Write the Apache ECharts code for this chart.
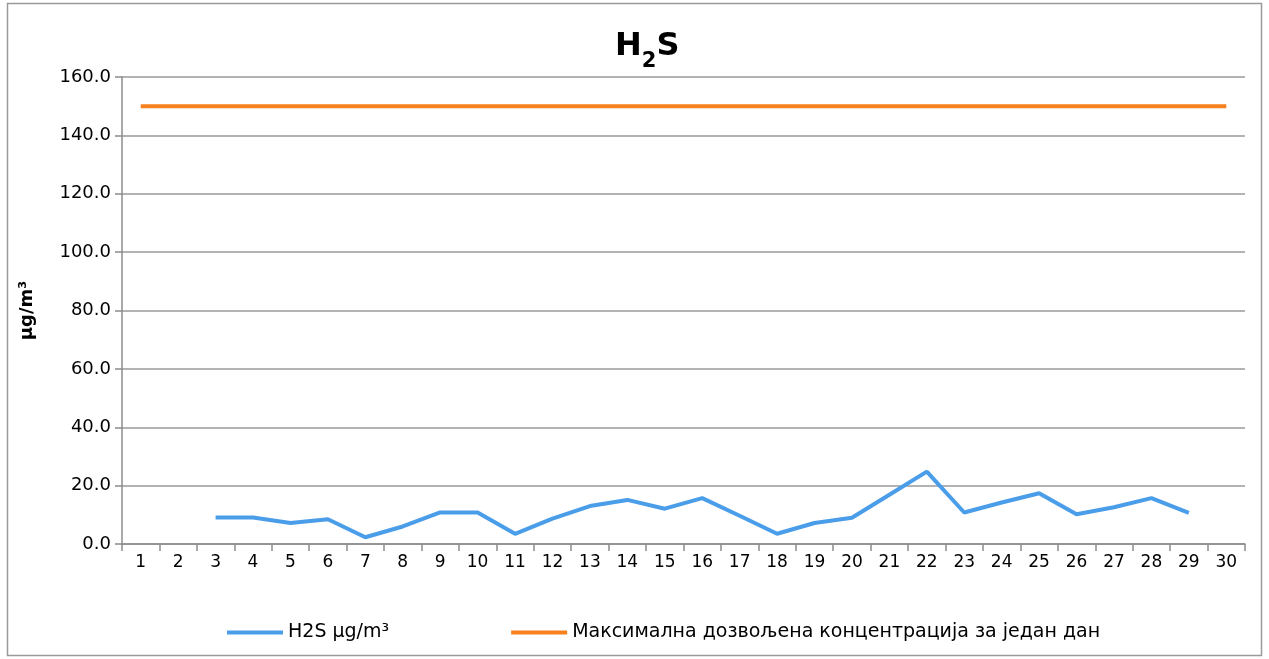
<!DOCTYPE html>
<html>
<head>
<meta charset="utf-8">
<script src="https://cdn.jsdelivr.net/npm/echarts@6/dist/echarts.min.js"></script>
<style>html,body{margin:0;padding:0;background:#fff}#c{width:1269px;height:659px}</style>
</head>
<body>
<div id="c"></div>
<script>
var days = ['1','2','3','4','5','6','7','8','9','10','11','12','13','14','15','16','17','18','19','20','21','22','23','24','25','26','27','28','29','30'];
var h2s = [null,null,9.1,9.1,7.2,8.5,2.3,6.0,10.8,10.8,3.5,8.7,13.0,15.1,12.1,15.7,9.7,3.5,7.2,9.0,16.9,24.8,10.8,14.2,17.4,10.2,12.6,15.7,10.7,null];
var limit = [150,150,150,150,150,150,150,150,150,150,150,150,150,150,150,150,150,150,150,150,150,150,150,150,150,150,150,150,150,150];
var yTicks = {min:0, max:160, interval:20};
var seriesNames = ['H2S μg/m³','Максимална дозвољена концентрација за један дан'];

var chart = echarts.init(document.getElementById('c'));
chart.setOption({
  animation:false,
  graphic:[{type:'rect',shape:{x:7.5,y:3.5,width:1254,height:652},style:{fill:'none',stroke:'#9a9a9a',lineWidth:1.5}}],
  title:{
    text:'{b|H}{s|2}{b|S}', left:610, top:26,
    textStyle:{rich:{
      b:{fontFamily:'DejaVu Sans',fontWeight:'bold',fontSize:32,color:'#000',verticalAlign:'bottom'},
      s:{fontFamily:'DejaVu Sans',fontWeight:'bold',fontSize:21,color:'#000',padding:[0,0,-9,0],verticalAlign:'bottom'}
    }}
  },
  grid:{left:122,right:24,top:77,bottom:115,containLabel:false},
  legend:{
    bottom:12, left:222, itemGap:122, itemWidth:56, itemHeight:4,
    textStyle:{fontFamily:'DejaVu Sans',fontSize:19,color:'#000'},
    data:[{name:seriesNames[0],icon:'rect'},{name:seriesNames[1],icon:'rect'}]
  },
  xAxis:{
    type:'category', data:days, boundaryGap:true,
    axisLine:{lineStyle:{color:'#8c8c8c',width:1.5}},
    axisTick:{show:true,length:7,lineStyle:{color:'#8c8c8c',width:1.5}},
    axisLabel:{fontFamily:'DejaVu Sans',fontSize:17,color:'#000',margin:10}
  },
  yAxis:{
    type:'value', min:yTicks.min, max:yTicks.max, interval:yTicks.interval,
    name:'μg/m³', nameLocation:'middle', nameGap:86, nameRotate:90,
    nameTextStyle:{fontFamily:'DejaVu Sans',fontWeight:'bold',fontSize:18,color:'#000'},
    axisLine:{show:true,lineStyle:{color:'#8c8c8c',width:1.5}},
    axisTick:{show:true,length:7,lineStyle:{color:'#8c8c8c',width:1.5}},
    splitLine:{lineStyle:{color:'#9a9a9a',width:1.5}},
    axisLabel:{fontFamily:'DejaVu Sans',fontSize:18,color:'#000',margin:11,formatter:function(v){return v.toFixed(1);}}
  },
  series:[
    {name:seriesNames[0],type:'line',data:h2s,symbol:'none',connectNulls:false,
     lineStyle:{color:'#4a9de9',width:4},itemStyle:{color:'#4a9de9'}},
    {name:seriesNames[1],type:'line',data:limit,symbol:'none',
     lineStyle:{color:'#f7801f',width:4},itemStyle:{color:'#f7801f'}}
  ]
});
</script>
</body>
</html>
